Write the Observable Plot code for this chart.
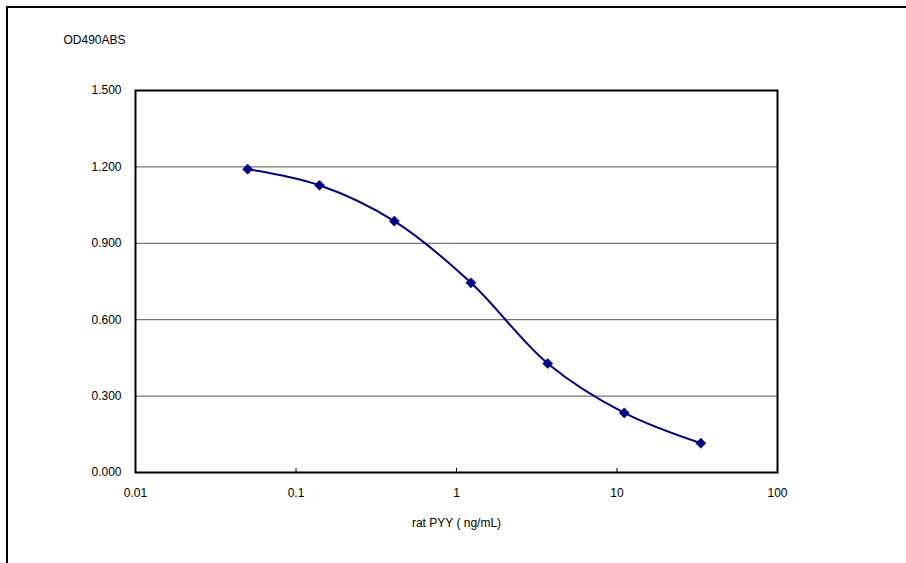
<!DOCTYPE html>
<html>
<head>
<meta charset="utf-8">
<script src="https://cdn.jsdelivr.net/npm/d3@7"></script>
<script src="https://cdn.jsdelivr.net/npm/@observablehq/plot@0.6"></script>
<style>
  html, body { margin: 0; padding: 0; background: #fff; }
  #wrap { position: relative; width: 906px; height: 563px; overflow: hidden; }
  #border { position: absolute; left: 6px; top: 6px; right: -10px; bottom: -10px;
            border-left: 2px solid #000; border-top: 2px solid #000; pointer-events: none; }
  #chart { position: absolute; left: 0; top: 0; }
</style>
</head>
<body>
<div id="wrap"><div id="chart"></div><div id="border"></div></div>
<script>
// Data
const concentrations = [0.05, 0.14, 0.41, 1.23, 3.7, 11.1, 33.3];   // rat PYY (ng/mL)
const absorbance     = [1.191, 1.128, 0.987, 0.745, 0.428, 0.234, 0.115]; // OD490 ABS
const xTicks = [0.01, 0.1, 1, 10, 100];
const xTickLabels = ["0.01", "0.1", "1", "10", "100"];
const xInnerTicks = [0.1, 1, 10];
const yTicks = [0, 0.3, 0.6, 0.9, 1.2, 1.5];
const yGrid = [0.3, 0.6, 0.9, 1.2];
const xTitle = "rat PYY ( ng/mL)";
const yTitle = "OD490ABS";

const data = concentrations.map((c, i) => ({x: c, y: absorbance[i]}));
const font = "'Liberation Sans', Arial, sans-serif";
const navy = "#000080";

const chart = Plot.plot({
  width: 906,
  height: 563,
  marginLeft: 135,
  marginTop: 90,
  marginRight: 129,
  marginBottom: 91,
  style: {fontFamily: font, fontSize: "12px", color: "#000", background: "transparent"},
  x: {type: "log", domain: [0.01, 100]},
  y: {domain: [0, 1.5]},
  marks: [
    Plot.ruleY(yGrid, {stroke: "#555", strokeWidth: 1}),
    Plot.ruleX(xInnerTicks, {y1: 0, y2: 0.016, stroke: "#000", strokeWidth: 1}),
    Plot.frame({stroke: "#000", strokeWidth: 2}),
    Plot.axisX({ticks: xTicks, tickSize: 0, tickPadding: 16, label: null,
                tickFormat: (d) => xTickLabels[xTicks.indexOf(d)], fill: "#000"}),
    Plot.axisY({ticks: yTicks, tickSize: 0, tickPadding: 14, label: null,
                tickFormat: d3.format(".3f"), fill: "#000"}),
    Plot.line(data, {x: "x", y: "y", curve: "catmull-rom", stroke: navy, strokeWidth: 2}),
    Plot.dot(data, {x: "x", y: "y", symbol: "diamond2", r: 4.6, fill: navy, stroke: navy, strokeWidth: 0.5}),
    Plot.text([xTitle], {frameAnchor: "bottom", dy: 54, text: (d) => d, fill: "#000"}),
    Plot.text([yTitle], {frameAnchor: "top-left", textAnchor: "middle", dx: -41, dy: -55, text: (d) => d, fill: "#000"})
  ]
});
document.getElementById("chart").appendChild(chart);
</script>
</body>
</html>
